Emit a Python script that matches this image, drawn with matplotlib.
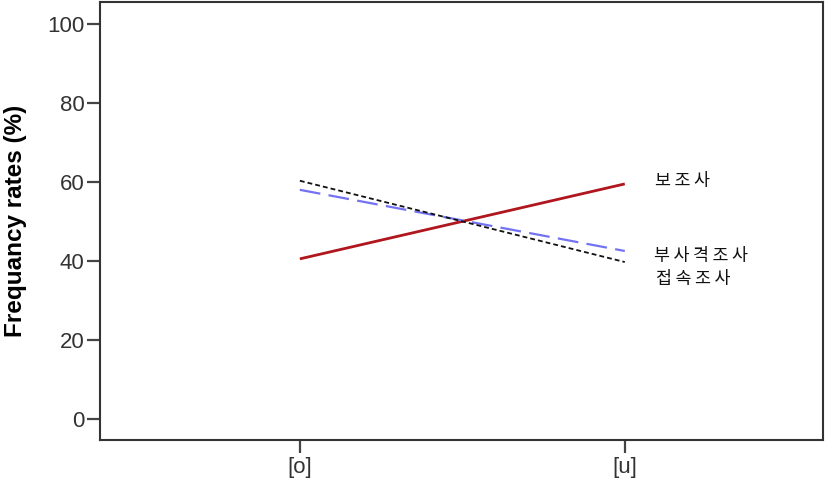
import matplotlib
matplotlib.use("Agg")
import matplotlib.pyplot as plt

categories = ["[o]", "[u]"]
series_names = ["보조사", "부사격조사", "접속조사"]
bojosa = [40.5, 59.5]
busagyeok = [58.0, 42.5]
jeopsok = [60.3, 39.7]
yticks = [0, 20, 40, 60, 80, 100]

plt.rcParams['lines.scale_dashes'] = False
fig = plt.figure(figsize=(8.27, 4.84), dpi=100)
ax = fig.add_axes([100/827, 1-440/484, 723/827, 438/484])

x = list(range(len(categories)))
ax.plot(x, bojosa, color="#B0161E", lw=2.0, solid_capstyle='butt')
ax.plot(x, busagyeok, color="#7272F2", lw=1.6, dashes=(15, 6))
ax.plot(x, jeopsok, color="#111111", lw=1.3, dashes=(3.5, 2.2))

ax.set_xlim(-0.615, 1.61)
ax.set_ylim(-5.4, 105.6)
ax.set_xticks(x)
ax.set_xticklabels(categories)
ax.set_yticks(yticks)

korean = ['Noto Sans CJK KR', 'DejaVu Sans']
offsets = [(30, 3), (29, -5), (31, -17)]
for name, vals, off in zip(series_names, [bojosa, busagyeok, jeopsok], offsets):
    spaced = "\u2009".join(name)
    ax.annotate(spaced, xy=(x[-1], vals[-1]), xytext=off, textcoords='offset pixels',
                ha='left', va='center', fontsize=12.5, family=korean,
                fontweight='medium', color='#111111')

for s in ax.spines.values():
    s.set_linewidth(1.5)
    s.set_color('#333333')
ax.tick_params(axis='both', direction='out', length=9.5, width=1.6, color='#444444',
               labelsize=16, labelcolor='#333333')
ax.tick_params(axis='y', pad=1.5)
ax.tick_params(axis='x', pad=3.0)
for lbl in ax.get_xticklabels() + ax.get_yticklabels():
    lbl.set_family('Liberation Sans')

ax.set_ylabel("Frequancy rates (%)", fontsize=17.5, fontweight='bold',
              family='Liberation Sans')
ax.yaxis.set_label_coords(-0.101, 0.5)

fig.savefig("out.png", dpi=100)
